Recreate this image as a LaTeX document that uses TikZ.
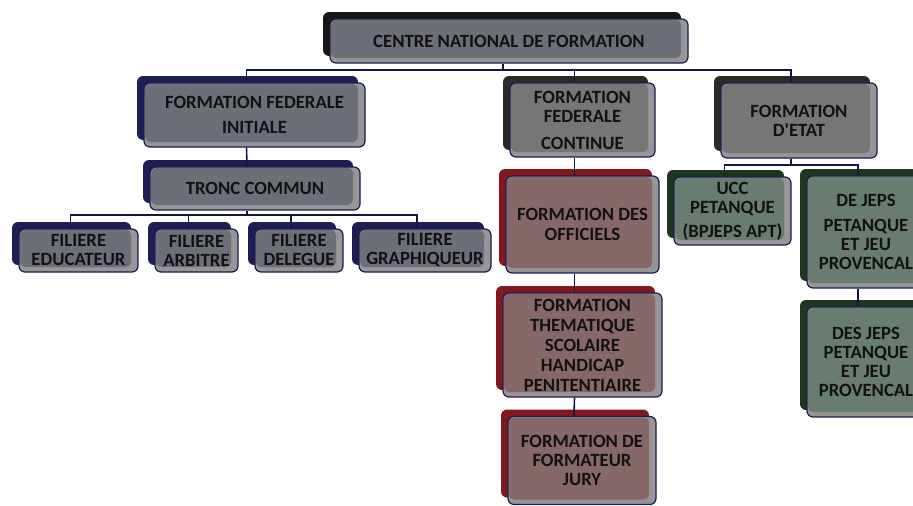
\documentclass[tikz,border=0pt]{standalone}
\usepackage{fontspec}
\setmainfont{Carlito}[Ligatures=TeXOff]
\usetikzlibrary{shadows}
\definecolor{bordc}{RGB}{28,28,80}
\definecolor{rimc}{RGB}{150,150,152}
\definecolor{txtc}{RGB}{18,18,18}
\definecolor{connc}{RGB}{22,22,60}
\definecolor{backblack}{RGB}{22,22,22}
\definecolor{backnavy}{RGB}{30,30,85}
\definecolor{backdark}{RGB}{42,42,42}
\definecolor{backred}{RGB}{128,24,30}
\definecolor{backgreen}{RGB}{28,55,30}
\definecolor{fillblue}{RGB}{108,110,120}
\definecolor{fillgray}{RGB}{118,118,118}
\definecolor{fillred}{RGB}{134,104,104}
\definecolor{fillgreen}{RGB}{104,124,112}
\tikzset{
  fbox/.style 2 args={rounded corners=6pt, draw=bordc, line width=1.2pt, fill=rimc,
    inner sep=0pt, align=center, text=txtc,
    font=\bfseries\fontsize{18.7}{19}\selectfont,
    general shadow={fill=#2, shadow xshift=-7pt, shadow yshift=7pt},
    path picture={\fill[#1, rounded corners=5pt]
      ([xshift=1pt,yshift=-1pt]path picture bounding box.north west) rectangle
      ([xshift=-7pt,yshift=5pt]path picture bounding box.south east);}},
  conn/.style={draw=connc, line width=1.6pt}
}
\begin{document}
\begin{tikzpicture}[x=1pt,y=-1pt]
\useasboundingbox (0,0) rectangle (913,506);
\clip (0,0) rectangle (913,506);
% connectors
\coordinate (b0) at (503,70);
\coordinate (b1) at (247,215);
\coordinate (b2) at (791,165);
% nodes
\node[fbox={fillblue}{backblack}, minimum width=358pt, minimum height=44pt] (cnf) at (509,41) {CENTRE NATIONAL DE FORMATION};
\node[fbox={fillblue}{backnavy}, minimum width=221pt, minimum height=64pt] (ffi) at (254.5,115) {FORMATION FEDERALE\\[6pt]INITIALE};
\node[fbox={fillgray}{backdark}, minimum width=145pt, minimum height=74pt] (ffc) at (582.5,120) {FORMATION\\FEDERALE\\[8pt]CONTINUE};
\node[fbox={fillgray}{backdark}, minimum width=156pt, minimum height=75pt] (fe) at (799,120.5) {FORMATION\\D'ETAT};
\node[fbox={fillblue}{backnavy}, minimum width=210pt, minimum height=43pt] (tronc) at (255,188.5) {TRONC COMMUN};
\node[fbox={fillblue}{backnavy}, minimum width=119pt, minimum height=43pt] (f1) at (78.5,250.5) {FILIERE\\EDUCATEUR};
\node[fbox={fillblue}{backnavy}, minimum width=83pt, minimum height=43pt] (f2) at (196.5,250.5) {FILIERE\\ARBITRE};
\node[fbox={fillblue}{backnavy}, minimum width=88pt, minimum height=43pt] (f3) at (299,250.5) {FILIERE\\DELEGUE};
\node[fbox={fillblue}{backnavy}, minimum width=132pt, minimum height=43pt] (f4) at (425,250.5) {FILIERE\\GRAPHIQUEUR};
\node[fbox={fillred}{backred}, minimum width=153pt, minimum height=97pt] (off) at (582.5,224.5) {FORMATION DES\\[1pt]OFFICIELS};
\node[fbox={fillred}{backred}, minimum width=159pt, minimum height=104pt] (them) at (582.5,345) {FORMATION\\[1pt]THEMATIQUE\\[1pt]SCOLAIRE\\[1pt]HANDICAP\\[1pt]PENITENTIAIRE};
\node[fbox={fillred}{backred}, minimum width=148pt, minimum height=88pt] (jury) at (582,460.5) {FORMATION DE\\FORMATEUR\\JURY};
\node[fbox={fillgreen}{backgreen}, minimum width=117pt, minimum height=68pt] (ucc) at (732.5,211) {UCC\\PETANQUE\\[5pt](BPJEPS APT)};
\node[fbox={fillgreen}{backgreen}, minimum width=118pt, minimum height=112pt] (dej) at (866,232) {DE JEPS\\[6pt]PETANQUE\\ET JEU\\PROVENCAL};
\node[fbox={fillgreen}{backgreen}, minimum width=118pt, minimum height=110pt] (desj) at (866,362) {DES JEPS\\PETANQUE\\ET JEU\\PROVENCAL};
% edges
\draw[conn] (cnf.south -| b0) -- (b0);
\draw[conn] ([xshift=-8pt]ffi.north) |- (b0);
\draw[conn] ([xshift=-8pt]ffc.north) |- (b0);
\draw[conn] ([xshift=-8pt]fe.north) |- (b0);
\draw[conn] ([xshift=-8pt]ffi.south) -- ([xshift=-8pt]tronc.north);
\draw[conn] (tronc.south -| b1) -- (b1);
\draw[conn] ([xshift=-8pt]f1.north) |- (b1);
\draw[conn] ([xshift=-8pt]f2.north) |- (b1);
\draw[conn] ([xshift=-8pt]f3.north) |- (b1);
\draw[conn] ([xshift=-8pt]f4.north) |- (b1);
\draw[conn] ([xshift=-8pt]ffc.south) -- ([xshift=-8pt]off.north);
\draw[conn] ([xshift=-8pt]off.south) -- ([xshift=-8pt]them.north);
\draw[conn] ([xshift=-8pt]them.south) -- ([xshift=-8pt]jury.north);
\draw[conn] (fe.south -| b2) -- (b2);
\draw[conn] ([xshift=-8pt]ucc.north) |- (b2);
\draw[conn] ([xshift=-8pt]dej.north) |- (b2);
\draw[conn] ([xshift=-8pt]dej.south) -- ([xshift=-8pt]desj.north);
\end{tikzpicture}
\end{document}
